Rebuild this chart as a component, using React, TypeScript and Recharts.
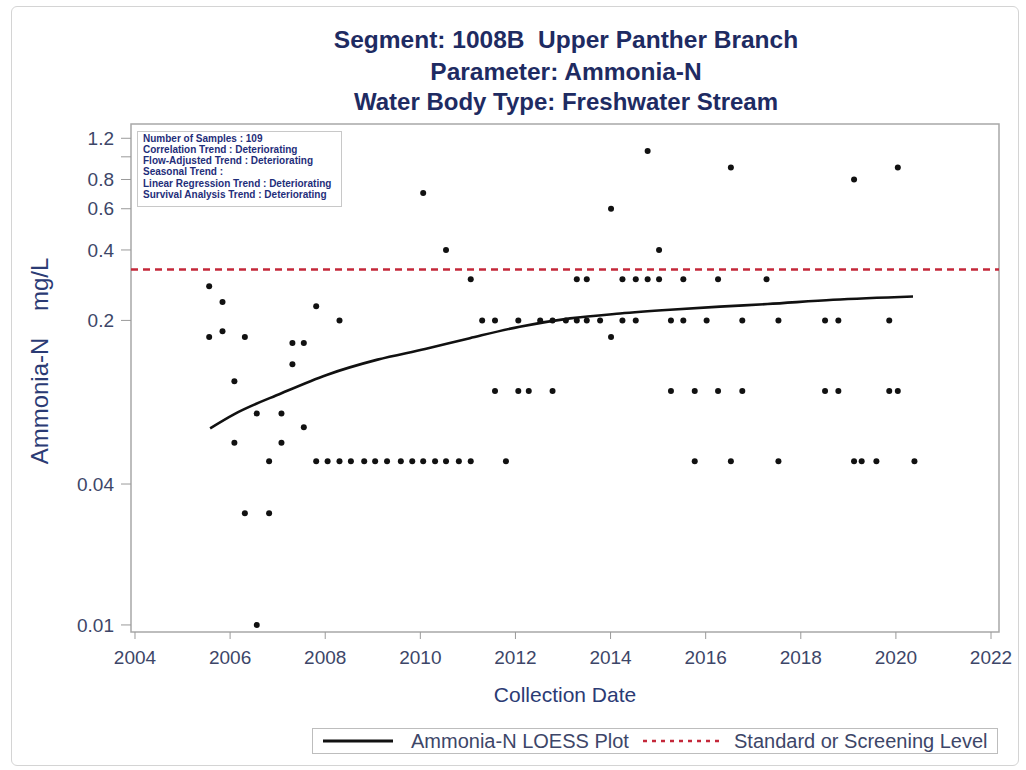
import React from 'react';
import { ComposedChart, Scatter, Line, XAxis, YAxis, ReferenceLine, ReferenceArea } from 'recharts';

const titleLines = [
  'Segment: 1008B  Upper Panther Branch',
  'Parameter: Ammonia-N',
  'Water Body Type: Freshwater Stream',
];

const statsLines = [
  'Number of Samples : 109',
  'Correlation Trend : Deteriorating',
  'Flow-Adjusted Trend : Deteriorating',
  'Seasonal Trend :',
  'Linear Regression Trend : Deteriorating',
  'Survival Analysis Trend : Deteriorating',
];

const yearTicks = [2004, 2006, 2008, 2010, 2012, 2014, 2016, 2018, 2020, 2022];
const concTicks = [0.01, 0.04, 0.2, 0.4, 0.6, 0.8, 1, 1.2];
const xDomain = [2003.916, 2022.168];
const yDomain = [0.00933, 1.381];
const screeningLevel = 0.33;

// individual samples (decimal year, mg/L)
const sampleDates = [
  2005.56, 2005.84, 2005.56, 2005.84, 2006.31, 2006.09, 2006.56, 2007.08, 2006.09, 2007.08,
  2006.82, 2006.31, 2006.82, 2006.56, 2007.31, 2007.55, 2007.31, 2007.55, 2007.81, 2008.30,
  // 0.05 row
  2007.81, 2008.05, 2008.30, 2008.54, 2008.82, 2009.05, 2009.30, 2009.59, 2009.83, 2010.06,
  2010.31, 2010.54, 2010.81, 2011.06, 2011.80, 2015.77, 2016.53, 2017.53, 2019.12, 2019.28,
  2019.59, 2020.39,
  // 0.1 row
  2011.57, 2012.06, 2012.28, 2012.78, 2015.27, 2015.77, 2016.26, 2016.77, 2018.51, 2018.79,
  2019.86, 2020.04,
  // 0.2 row
  2011.30, 2011.57, 2012.06, 2012.52, 2012.78, 2013.06, 2013.29, 2013.50, 2013.78, 2014.25,
  2014.53, 2015.27, 2015.53, 2016.02, 2016.77, 2017.53, 2018.51, 2018.79, 2019.86,
  // 0.3 row
  2011.06, 2013.29, 2013.50, 2014.25, 2014.53, 2014.78, 2015.02, 2015.53, 2016.26, 2017.28,
  // the rest
  2014.01, 2010.06, 2010.54, 2015.02, 2014.01, 2014.78, 2016.53, 2019.12, 2020.04,
];
const sampleValues = [
  0.28, 0.24, 0.17, 0.18, 0.17, 0.11, 0.08, 0.08, 0.06, 0.06,
  0.05, 0.03, 0.03, 0.01, 0.16, 0.16, 0.13, 0.07, 0.23, 0.2,
  0.05, 0.05, 0.05, 0.05, 0.05, 0.05, 0.05, 0.05, 0.05, 0.05,
  0.05, 0.05, 0.05, 0.05, 0.05, 0.05, 0.05, 0.05, 0.05, 0.05,
  0.05, 0.05,
  0.1, 0.1, 0.1, 0.1, 0.1, 0.1, 0.1, 0.1, 0.1, 0.1,
  0.1, 0.1,
  0.2, 0.2, 0.2, 0.2, 0.2, 0.2, 0.2, 0.2, 0.2, 0.2,
  0.2, 0.2, 0.2, 0.2, 0.2, 0.2, 0.2, 0.2, 0.2,
  0.3, 0.3, 0.3, 0.3, 0.3, 0.3, 0.3, 0.3, 0.3, 0.3,
  0.17, 0.7, 0.4, 0.4, 0.6, 1.06, 0.9, 0.8, 0.9,
];

// LOESS fit
const loessDates = [2005.58, 2006.09, 2007.08, 2008.03, 2009.1, 2010.1, 2011.04, 2012.09, 2013.15, 2014.2, 2015.25, 2016.3, 2017.3, 2018.68, 2020.36];
const loessValues = [0.0692, 0.0796, 0.0977, 0.117, 0.136, 0.151, 0.168, 0.188, 0.204, 0.214, 0.222, 0.229, 0.235, 0.245, 0.253];

const samples = sampleDates.map((x, i) => ({ x, y: sampleValues[i] }));
const loess = loessDates.map((x, i) => ({ x, y: loessValues[i] }));

const navy = '#1e2b62';
const tickColor = '#3d4668';
const labelColor = '#2b3b74';
const red = '#c4283a';
const font = '"Liberation Sans", Arial, sans-serif';

function LegendBox() {
  return (
    <div style={{ position: 'absolute', left: 312, top: 728, width: 686, height: 26, border: '1px solid #bdbdbd', boxSizing: 'border-box' }}>
      <svg width={684} height={24} style={{ display: 'block' }}>
        <line x1={10} x2={80} y1={12} y2={12} stroke="#111" strokeWidth={3} />
        <text x={98} y={19} fontSize={20} fill={tickColor} fontFamily={font}>Ammonia-N LOESS Plot</text>
        <line x1={330} x2={409} y1={12} y2={12} stroke={red} strokeWidth={2.5} strokeDasharray="4 5" />
        <text x={421} y={19} fontSize={20} fill={tickColor} fontFamily={font}>Standard or Screening Level</text>
      </svg>
    </div>
  );
}

export default function App() {
  return (
    <div style={{ position: 'absolute', left: 0, top: 0, width: 1026, height: 770, background: '#fff', fontFamily: font }}>
      <div style={{ position: 'absolute', left: 11, top: 6, width: 1006, height: 758, border: '1px solid #d4d4d4', borderRadius: 6 }} />

      {titleLines.map((t, i) => (
        <div
          key={t}
          style={{
            position: 'absolute',
            left: 0,
            width: 1132,
            textAlign: 'center',
            top: [28.3, 60.3, 89.7][i],
            fontSize: [24.5, 24.5, 24][i],
            lineHeight: 1,
            fontWeight: 'bold',
            color: navy,
            whiteSpace: 'pre',
          }}
        >
          {t}
        </div>
      ))}

      <ComposedChart width={1026} height={770} margin={{ top: 124, right: 27, bottom: 88, left: 71 }}>
        <XAxis
          dataKey="x"
          type="number"
          domain={xDomain}
          ticks={yearTicks}
          allowDataOverflow
          height={50}
          axisLine={false}
          tickSize={7}
          tickMargin={12}
          tickLine={{ stroke: '#9a9a9a' }}
          tick={{ fontSize: 19, fill: tickColor, fontFamily: font }}
        />
        <YAxis
          dataKey="y"
          type="number"
          scale="log"
          domain={yDomain}
          ticks={concTicks}
          allowDataOverflow
          width={60}
          axisLine={false}
          tickSize={10}
          tickMargin={7}
          tickLine={{ stroke: '#9a9a9a' }}
          tick={{ fontSize: 19, fill: tickColor, fontFamily: font }}
          tickFormatter={(v: number) => (v === 1 ? '' : String(v))}
        />
        <ReferenceArea x1={xDomain[0]} x2={xDomain[1]} y1={yDomain[0]} y2={yDomain[1]} fill="none" stroke="#a8a8a8" strokeWidth={1.5} ifOverflow="visible" />
        <ReferenceLine y={screeningLevel} stroke={red} strokeWidth={2.5} strokeDasharray="7 5" />
        <Scatter
          data={samples}
          dataKey="y"
          isAnimationActive={false}
          shape={(p: any) => <circle cx={p.cx} cy={p.cy} r={3} fill="#111" />}
        />
        <Line data={loess} dataKey="y" type="monotone" stroke="#111" strokeWidth={2.6} dot={false} activeDot={false} isAnimationActive={false} />
      </ComposedChart>

      <LegendBox />

      <div style={{ position: 'absolute', left: 137, top: 131, width: 205, height: 76, border: '1px solid #c8c8c8', boxSizing: 'border-box', paddingLeft: 5, paddingTop: 0.5 }}>
        {statsLines.map((s) => (
          <div key={s} style={{ fontSize: 10, lineHeight: '11.3px', fontWeight: 'bold', color: '#1f2e7a', whiteSpace: 'pre' }}>{s}</div>
        ))}
      </div>

      <div style={{ position: 'absolute', left: 40, top: 361, transform: 'translate(-50%, -50%) rotate(-90deg)', fontSize: 24, lineHeight: 1, color: labelColor, whiteSpace: 'pre' }}>
        Ammonia-N    mg/L
      </div>
      <div style={{ position: 'absolute', left: 0, width: 1130, top: 684, textAlign: 'center', fontSize: 21, lineHeight: 1, color: labelColor }}>
        Collection Date
      </div>
    </div>
  );
}
